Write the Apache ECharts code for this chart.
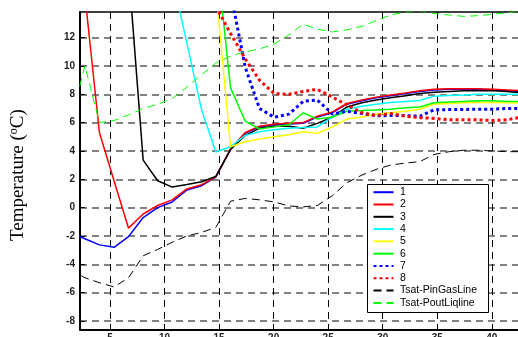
<!DOCTYPE html>
<html>
<head>
<meta charset="utf-8">
<script src="https://cdn.jsdelivr.net/npm/echarts@6/dist/echarts.min.js"></script>
<style>
  html, body { margin: 0; padding: 0; background: #fff; }
  #chart { width: 518px; height: 337px; }
</style>
</head>
<body>
<div id="chart"></div>
<script>
// Measurement positions along the line (x axis)
const positions = [1.35, 2.7, 4.03, 5.37, 6.7, 8.04, 9.37, 10.7, 12.05, 13.4, 14.7, 16.05, 17.4, 18.7, 20.05, 21.4,
                   22.7, 24.0, 25.4, 26.7, 28.1, 29.4, 30.7, 32.1, 33.4, 34.7, 36.1, 37.4, 38.7, 40.1, 41.4, 42.8];

const xTicks = [5, 10, 15, 20, 25, 30, 35, 40];
const yTicks = [-8, -6, -4, -2, 0, 2, 4, 6, 8, 10, 12];

const seriesNames = ['1', '2', '3', '4', '5', '6', '7', '8', 'Tsat-PinGasLine', 'Tsat-PoutLiqline'];

// Temperatures (°C) per position, null where no reading is shown
const t1 = [-1.75, -2.2, -2.63, -2.8, -2.05, -0.7, 0.0, 0.4, 1.25, 1.55, 2.15, 4.12, 5.25, 5.7, 5.85, 5.9,
            5.95, 6.4, 6.7, 7.3, 7.55, 7.75, 7.9, 8.05, 8.2, 8.3, 8.35, 8.35, 8.35, 8.3, 8.25, 8.2];
const t2 = [null, 15.0, 5.3, 1.9, -1.45, -0.45, 0.15, 0.55, 1.32, 1.62, 2.17, 4.15, 5.3, 5.75, 5.9, 5.95,
            6.0, 6.45, 6.75, 7.35, 7.6, 7.8, 7.95, 8.1, 8.25, 8.35, 8.4, 8.4, 8.4, 8.35, 8.3, 8.25];
const t3 = [null, null, null, null, 16.8, 3.35, 1.9, 1.45, 1.63, 1.83, 2.2, 4.1, 5.1, 5.6, 5.75, 5.75,
            5.6, 5.95, 6.4, 7.1, 7.4, 7.6, 7.75, 7.9, 8.05, 8.15, 8.2, 8.25, 8.25, 8.25, 8.2, 8.1];
const t4 = [null, null, null, null, null, null, null, 16.3, 11.6, 6.9, 3.93, 4.3, 5.1, 5.35, 5.5, 5.6,
            5.65, 5.7, 6.4, 6.95, 7.15, 7.3, 7.42, 7.5, 7.56, 7.87, 7.92, 7.95, 8.0, 8.0, 8.0, 8.0];
const t5 = [null, null, null, null, null, null, null, null, null, null, 15.5, 4.3, 4.65, 4.85, 5.0, 5.15,
            5.35, 5.25, 5.7, 6.25, 6.4, 6.6, 6.7, 6.8, 6.95, 7.3, 7.35, 7.4, 7.42, 7.42, 7.4, 7.38];
const t6 = [null, null, null, null, null, null, null, null, null, null, 18.3, 8.45, 6.1, 5.55, 5.7, 5.85,
            6.7, 6.25, 6.4, 6.8, 6.85, 6.9, 6.95, 7.05, 7.1, 7.4, 7.45, 7.5, 7.55, 7.55, 7.5, 7.5];
const t7 = [null, null, null, null, null, null, null, null, null, null, null, 15.2, 9.9, 7.0, 6.38, 6.6,
            7.5, 7.6, 6.6, 6.8, 6.65, 6.48, 6.5, 6.5, 6.45, 6.9, 6.92, 6.93, 6.95, 6.95, 7.0, 7.0];
const t8 = [null, null, null, null, null, null, null, null, null, null, 14.2, 12.3, 10.5, 9.0, 8.05, 8.0,
            8.2, 8.35, 7.8, 7.25, 6.7, 6.5, 6.65, 6.45, 6.35, 6.3, 6.2, 6.2, 6.2, 6.15, 6.2, 6.4];
const tsatGas = [-4.35, -4.95, -5.3, -5.6, -4.95, -3.4, -2.95, -2.45, -2.0, -1.75, -1.4, 0.45, 0.65, 0.55, 0.4, 0.12,
                 0.05, 0.15, 0.85, 1.75, 2.3, 2.7, 3.0, 3.15, 3.25, 3.75, 3.95, 4.05, 4.05, 4.0, 3.95, 3.95];
const tsatLiq = [5.9, 10.0, 6.0, 6.15, 6.55, 7.0, 7.3, 7.7, 8.5, 9.4, 10.2, 10.7, 11.0, 11.2, 11.55, 12.2,
                 12.95, 12.6, 12.4, 12.55, 12.8, 13.2, 13.6, 13.8, 13.9, 13.7, 13.6, 13.5, 13.55, 13.65, 13.75, 13.9];

const values = [t1, t2, t3, t4, t5, t6, t7, t8, tsatGas, tsatLiq];
const styles = [
  { color: '#0000ff', width: 1.5, type: 'solid' },
  { color: '#ff0000', width: 1.5, type: 'solid' },
  { color: '#000000', width: 1.5, type: 'solid' },
  { color: '#00ffff', width: 1.5, type: 'solid' },
  { color: '#ffff00', width: 1.5, type: 'solid' },
  { color: '#00ff00', width: 1.5, type: 'solid' },
  { color: '#0000ff', width: 3, type: [3, 3] },
  { color: '#ff0000', width: 3, type: [3, 3] },
  { color: '#000000', width: 1, type: [8, 5] },
  { color: '#00ff00', width: 1, type: [8, 5] }
];

const sansFont = '"Liberation Sans", Arial, sans-serif';

const series = seriesNames.map((name, k) => ({
  name: name,
  type: 'line',
  xAxisIndex: 0,
  symbol: 'none',
  clip: true,
  animation: false,
  color: styles[k].color,
  lineStyle: { color: styles[k].color, width: styles[k].width, type: styles[k].type },
  data: positions.map((x, i) => [x, values[k][i]])
}));

const chart = echarts.init(document.getElementById('chart'), null, { renderer: 'canvas' });
chart.setOption({
  animation: false,
  backgroundColor: '#ffffff',
  grid: { left: 80, top: 12, right: 0, bottom: 7.7, containLabel: false, outerBoundsMode: 'none' },
  xAxis: [
    {
      type: 'value', position: 'bottom', min: 2.25, max: 42.4,
      axisLine: { show: true, onZero: false, lineStyle: { color: '#000', width: 2 } },
      axisTick: { show: true, inside: true, length: 5, customValues: xTicks, lineStyle: { color: '#000', width: 1 } },
      axisLabel: { customValues: xTicks, fontSize: 10, fontWeight: 'bold', color: '#222', margin: 4, fontFamily: sansFont },
      splitLine: { show: true, lineStyle: { color: '#000', width: 1, type: [7, 5] } }
    },
    {
      type: 'value', position: 'top', min: 2.25, max: 42.4,
      axisLine: { show: true, onZero: false, lineStyle: { color: '#000', width: 1.5 } },
      axisTick: { show: false }, axisLabel: { show: false }, splitLine: { show: false }
    }
  ],
  yAxis: {
    type: 'value', min: -8.59, max: 13.81,
    axisLine: { show: true, onZero: false, lineStyle: { color: '#000', width: 2 } },
    axisTick: { show: true, inside: true, length: 5, customValues: yTicks, lineStyle: { color: '#000', width: 1 } },
    axisLabel: { customValues: yTicks, fontSize: 10, fontWeight: 'bold', color: '#222', margin: 5, fontFamily: sansFont },
    splitLine: { show: true, lineStyle: { color: '#5a5a5a', width: 1.5, type: [7, 5] } },
    name: 'Temperature ({sup|o}C)',
    nameLocation: 'middle',
    nameRotate: 90,
    nameGap: 52,
    nameTextStyle: {
      fontFamily: '"Liberation Serif", "Times New Roman", serif',
      fontSize: 19, color: '#000',
      padding: [0, 9, 0, 0],
      rich: { sup: { fontFamily: '"Liberation Serif", serif', fontSize: 12, verticalAlign: 'top', padding: [0, 0, 8, 0] } }
    }
  },
  legend: {
    orient: 'vertical', left: 372.5, top: 186.7, padding: 0,
    itemWidth: 20, itemHeight: 10, itemGap: 1.3,
    itemStyle: { color: 'rgba(0,0,0,0)', opacity: 0, borderWidth: 0 },
    textStyle: { fontSize: 10.5, lineHeight: 10, color: '#000', fontFamily: sansFont, padding: [0, 0, 0, 1.5] },
    data: seriesNames,
    selectedMode: false
  },
  graphic: [{
    type: 'rect', z: 3, left: 367, top: 184,
    shape: { width: 121, height: 128 },
    style: { fill: '#ffffff', stroke: '#000', lineWidth: 1 }
  }],
  series: series
});
</script>
</body>
</html>
